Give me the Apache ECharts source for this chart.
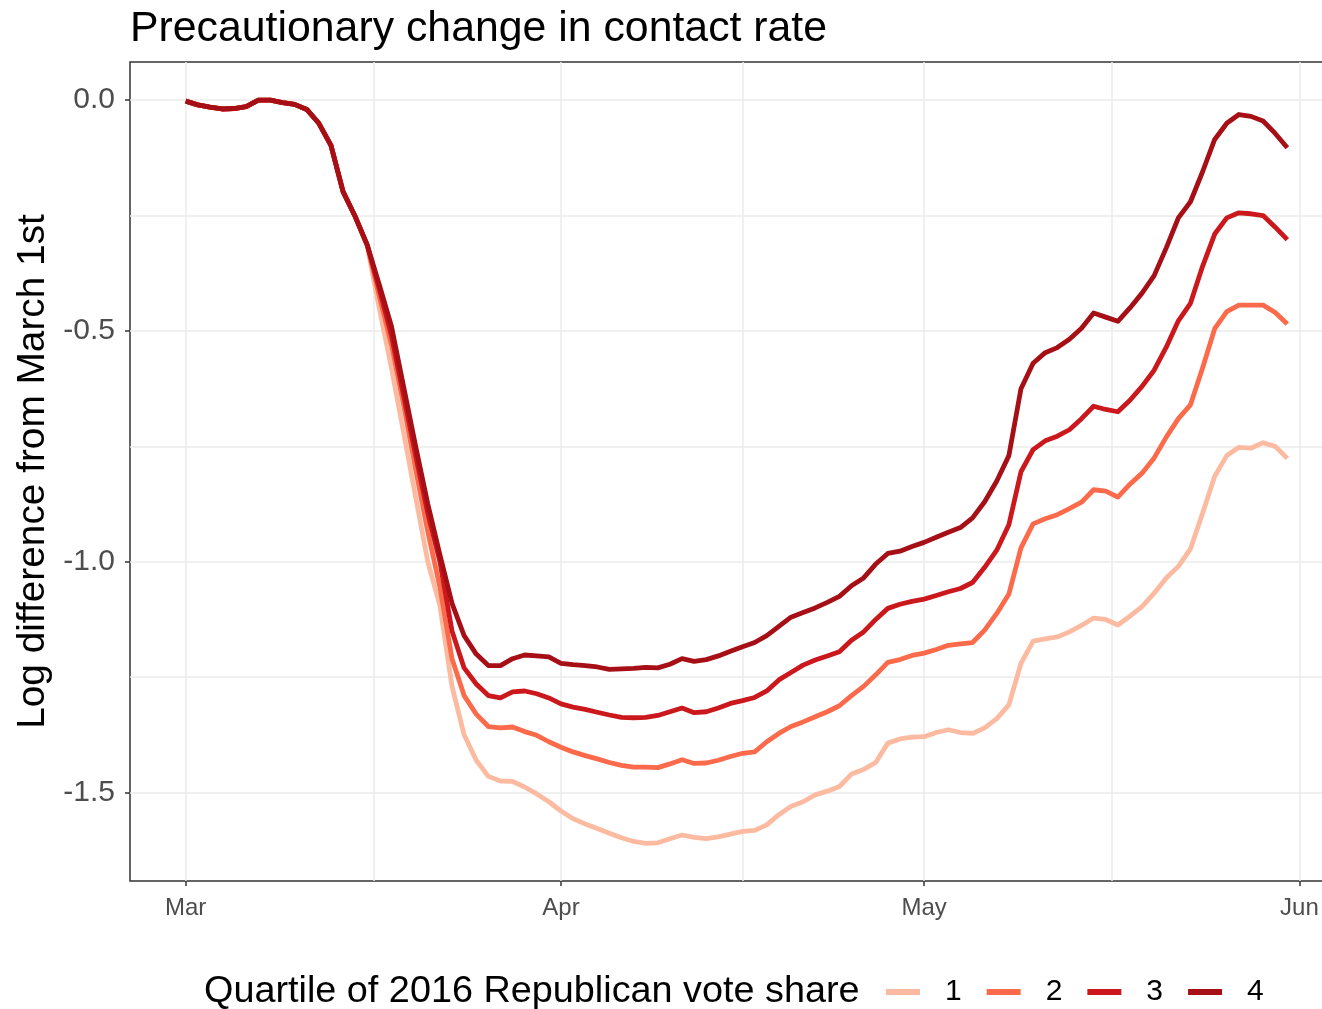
<!DOCTYPE html>
<html>
<head>
<meta charset="utf-8">
<title>Precautionary change in contact rate</title>
<script src="https://cdn.jsdelivr.net/npm/echarts@6/dist/echarts.min.js"></script>
<style>
  html, body { margin: 0; padding: 0; background: #ffffff; }
  #chart { width: 1322px; height: 1009px; }
</style>
</head>
<body>
<div id="chart"></div>
<script>
// Daily log difference from March 1st, one value per day from Mar 1 (day 0) to May 31 (day 91)
const quartileNames = ['1', '2', '3', '4'];

const q1 = [
  -0.002, -0.010, -0.015, -0.019, -0.018, -0.014, 0.000, 0.000, -0.005, -0.009,
  -0.020, -0.050, -0.098, -0.198, -0.252, -0.316, -0.452, -0.580, -0.720, -0.860,
  -1.000, -1.095, -1.270, -1.375, -1.430, -1.465, -1.475, -1.476, -1.488, -1.503,
  -1.520, -1.540, -1.557, -1.568, -1.578, -1.588, -1.598, -1.606, -1.610, -1.609,
  -1.600, -1.592, -1.597, -1.600, -1.596, -1.590, -1.584, -1.582, -1.570, -1.548,
  -1.530, -1.520, -1.505, -1.497, -1.487, -1.460, -1.450, -1.435, -1.393, -1.384,
  -1.380, -1.379, -1.370, -1.364, -1.370, -1.372, -1.360, -1.340, -1.310, -1.220,
  -1.172, -1.167, -1.163, -1.152, -1.138, -1.122, -1.125, -1.137, -1.118, -1.097,
  -1.068, -1.035, -1.010, -0.972, -0.895, -0.815, -0.770, -0.752, -0.754, -0.742,
  -0.750, -0.776
];

const q2 = [
  -0.002, -0.010, -0.015, -0.019, -0.018, -0.014, 0.000, 0.000, -0.005, -0.009,
  -0.020, -0.050, -0.098, -0.198, -0.252, -0.314, -0.425, -0.530, -0.660, -0.800,
  -0.935, -1.055, -1.210, -1.290, -1.330, -1.357, -1.360, -1.358, -1.368, -1.376,
  -1.390, -1.402, -1.412, -1.420, -1.427, -1.435, -1.441, -1.445, -1.445, -1.446,
  -1.438, -1.429, -1.437, -1.436, -1.430, -1.422, -1.415, -1.412, -1.390, -1.372,
  -1.357, -1.347, -1.336, -1.325, -1.312, -1.290, -1.270, -1.245, -1.218, -1.212,
  -1.203, -1.198, -1.190, -1.181, -1.178, -1.175, -1.148, -1.112, -1.070, -0.970,
  -0.918, -0.907, -0.898, -0.885, -0.871, -0.844, -0.847, -0.860, -0.832, -0.808,
  -0.775, -0.730, -0.690, -0.660, -0.580, -0.495, -0.458, -0.444, -0.444, -0.444,
  -0.460, -0.485
];

const q3 = [
  -0.002, -0.010, -0.015, -0.019, -0.018, -0.014, 0.000, 0.000, -0.005, -0.009,
  -0.020, -0.050, -0.098, -0.198, -0.252, -0.314, -0.410, -0.510, -0.640, -0.770,
  -0.895, -1.000, -1.150, -1.230, -1.265, -1.290, -1.295, -1.282, -1.280, -1.286,
  -1.295, -1.308, -1.315, -1.320, -1.326, -1.332, -1.337, -1.338, -1.337, -1.333,
  -1.325, -1.317, -1.327, -1.325, -1.317, -1.307, -1.301, -1.294, -1.280, -1.256,
  -1.240, -1.224, -1.213, -1.204, -1.195, -1.170, -1.152, -1.125, -1.101, -1.092,
  -1.086, -1.081, -1.073, -1.065, -1.058, -1.045, -1.012, -0.975, -0.920, -0.805,
  -0.757, -0.738, -0.728, -0.714, -0.690, -0.663, -0.670, -0.675, -0.650, -0.620,
  -0.585, -0.535, -0.478, -0.440, -0.360, -0.290, -0.255, -0.244, -0.246, -0.250,
  -0.275, -0.302
];

const q4 = [
  -0.002, -0.010, -0.015, -0.019, -0.018, -0.014, 0.000, 0.000, -0.005, -0.009,
  -0.020, -0.050, -0.098, -0.198, -0.252, -0.314, -0.400, -0.490, -0.620, -0.750,
  -0.875, -0.985, -1.090, -1.160, -1.200, -1.225, -1.225, -1.210, -1.202, -1.204,
  -1.206, -1.220, -1.223, -1.225, -1.228, -1.233, -1.232, -1.231, -1.229, -1.230,
  -1.222, -1.210, -1.216, -1.212, -1.204, -1.194, -1.184, -1.175, -1.160, -1.140,
  -1.120, -1.110, -1.100, -1.088, -1.075, -1.052, -1.035, -1.005, -0.982, -0.977,
  -0.967, -0.958, -0.947, -0.936, -0.926, -0.905, -0.870, -0.825, -0.770, -0.625,
  -0.570, -0.547, -0.536, -0.518, -0.494, -0.461, -0.470, -0.479, -0.450, -0.418,
  -0.380, -0.320, -0.255, -0.220, -0.155, -0.085, -0.050, -0.031, -0.035, -0.045,
  -0.072, -0.103
];

// Month tick positions (days since Mar 1) and their labels
const monthTickDays = [0, 31, 61, 92];
const monthTickLabels = ['Mar', 'Apr', 'May', 'Jun'];
// Gridlines: month starts plus the midpoints between them
const xGridDays = [0, 15.5, 31, 46, 61, 76.5, 92];
const yTickValues = [-1.5, -1.0, -0.5, 0.0];
const yGridValues = [-1.5, -1.25, -1.0, -0.75, -0.5, -0.25, 0.0];

const seriesValues = [q1, q2, q3, q4];
const lineColors = ['#FCBBA1', '#FB6A4A', '#CB181D', '#A50F15'];

const X_MIN = -4.6, X_MAX = 95.6;
const Y_MIN = -1.6917, Y_MAX = 0.0828;

const chart = echarts.init(document.getElementById('chart'), null, { renderer: 'canvas' });

const series = seriesValues.map((vals, k) => ({
  name: quartileNames[k],
  type: 'line',
  xAxisIndex: 0,
  yAxisIndex: 0,
  showSymbol: false,
  symbol: 'none',
  silent: true,
  animation: false,
  lineStyle: { color: lineColors[k], width: 4.8, join: 'round' },
  itemStyle: { color: lineColors[k] },
  z: 3 + k,
  data: vals.map((v, i) => [i, v])
}));

const option = {
  backgroundColor: '#ffffff',
  animation: false,
  title: [
    {
      text: 'Precautionary change in contact rate',
      left: 125,
      top: 3,
      textStyle: { fontFamily: 'Liberation Sans, Arial, sans-serif', fontSize: 42.8, fontWeight: 'normal', color: '#000000' }
    },
    {
      text: 'Quartile of 2016 Republican vote share',
      left: 199,
      top: 968,
      textStyle: { fontFamily: 'Liberation Sans, Arial, sans-serif', fontSize: 37.8, fontWeight: 'normal', color: '#000000' }
    }
  ],
  legend: {
    data: quartileNames,
    left: 881,
    top: 972,
    orient: 'horizontal',
    icon: 'rect',
    itemWidth: 34,
    itemHeight: 6,
    itemGap: 25,
    selectedMode: false,
    textStyle: {
      fontFamily: 'Liberation Sans, Arial, sans-serif',
      fontSize: 30,
      color: '#000000',
      padding: [0, 0, 0, 20]
    }
  },
  grid: {
    left: 130,
    top: 62,
    right: -21,
    bottom: 128,
    containLabel: false,
    outerBoundsMode: 'none',
    show: true,
    borderColor: '#333333',
    borderWidth: 1.5,
    backgroundColor: 'transparent'
  },
  xAxis: [
    {
      type: 'value',
      min: X_MIN,
      max: X_MAX,
      position: 'bottom',
      axisLine: { show: false, onZero: false },
      axisTick: {
        show: true,
        length: 5,
        customValues: monthTickDays,
        lineStyle: { color: '#333333', width: 1.5 }
      },
      axisLabel: {
        show: true,
        customValues: monthTickDays,
        margin: 15,
        fontFamily: 'Liberation Sans, Arial, sans-serif',
        fontSize: 24,
        color: '#4D4D4D',
        formatter: (v) => monthTickLabels[monthTickDays.indexOf(Math.round(v))] || ''
      },
      splitLine: { show: false },
      z: 5
    },
    {
      type: 'value',
      min: X_MIN,
      max: X_MAX,
      position: 'bottom',
      axisLine: { show: false, onZero: false },
      axisTick: { show: false, customValues: xGridDays },
      axisLabel: { show: false, customValues: xGridDays },
      splitLine: { show: true, lineStyle: { color: '#EBEBEB', width: 1.5 } },
      z: 0
    }
  ],
  yAxis: [
    {
      type: 'value',
      min: Y_MIN,
      max: Y_MAX,
      position: 'left',
      name: 'Log difference from March 1st',
      nameLocation: 'middle',
      nameRotate: 90,
      nameGap: 72,
      nameTextStyle: { fontFamily: 'Liberation Sans, Arial, sans-serif', fontSize: 38.8, color: '#000000' },
      axisLine: { show: false, onZero: false },
      axisTick: {
        show: true,
        length: 5,
        customValues: yTickValues,
        lineStyle: { color: '#333333', width: 1.5 }
      },
      axisLabel: {
        show: true,
        customValues: yTickValues,
        margin: 15,
        fontFamily: 'Liberation Sans, Arial, sans-serif',
        fontSize: 30,
        color: '#4D4D4D',
        formatter: (v) => v.toFixed(1)
      },
      splitLine: { show: false },
      z: 5
    },
    {
      type: 'value',
      min: Y_MIN,
      max: Y_MAX,
      position: 'left',
      axisLine: { show: false, onZero: false },
      axisTick: { show: false, customValues: yGridValues },
      axisLabel: { show: false, customValues: yGridValues },
      splitLine: { show: true, lineStyle: { color: '#EBEBEB', width: 1.5 } },
      z: 0
    }
  ],
  series: series
};

chart.setOption(option);
</script>
</body>
</html>
